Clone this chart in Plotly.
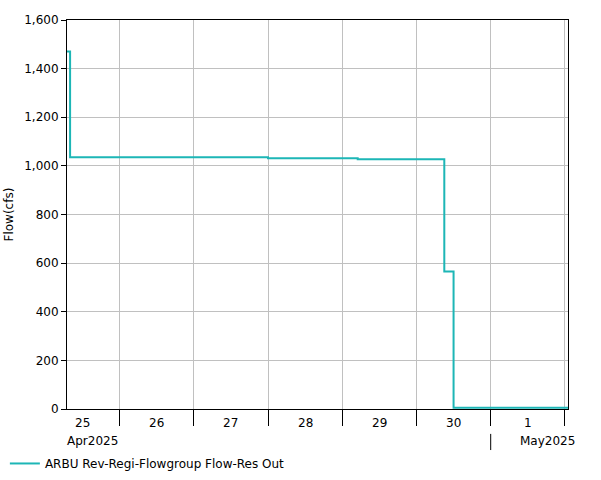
import plotly.graph_objects as go

times = ["2025-04-25 07:00", "2025-04-25 08:00", "2025-04-28 00:00", "2025-04-29 05:00",
         "2025-04-30 09:00", "2025-04-30 12:00", "2025-05-02 01:00"]
flow = [1470, 1035, 1031, 1027, 566, 5, 5]

day_ticks = ["2025-04-26", "2025-04-27", "2025-04-28", "2025-04-29", "2025-04-30", "2025-05-01", "2025-05-02"]
day_label_pos = ["2025-04-25 12:00", "2025-04-26 12:00", "2025-04-27 12:00", "2025-04-28 12:00",
                 "2025-04-29 12:00", "2025-04-30 12:00", "2025-05-01 12:00"]
day_labels = ["25", "26", "27", "28", "29", "30", "1"]
month_pos = ["2025-04-25 07:00", "2025-05-01 09:20"]
month_labels = ["Apr2025", "May2025"]
month_sep = ["2025-05-01"]
series_name = "ARBU Rev-Regi-Flowgroup Flow-Res Out"
y_title = "Flow(cfs)"

FONT = "DejaVu Sans"
fig = go.Figure()
fig.add_trace(go.Scatter(x=times, y=flow, mode="lines", line_shape="hv",
                         line=dict(color="#1db6b6", width=2), name=series_name, showlegend=True))

annotations = []
for pos, lab in zip(day_label_pos, day_labels):
    annotations.append(dict(x=pos, y=0, xref="x", yref="paper", text=lab, showarrow=False,
                            xanchor="center", yanchor="middle", yshift=-14,
                            font=dict(family=FONT, size=12, color="black")))
for pos, lab in zip(month_pos, month_labels):
    annotations.append(dict(x=pos, y=0, xref="x", yref="paper", text=lab, showarrow=False,
                            xanchor="left", yanchor="middle", yshift=-32, xshift=-2,
                            font=dict(family=FONT, size=12, color="black")))
annotations.append(dict(x=0, y=0.5, xref="paper", yref="paper", text=y_title, showarrow=False,
                        textangle=-90, xanchor="center", yanchor="middle", xshift=-59,
                        font=dict(family=FONT, size=12, color="black")))

shapes = []
for s in month_sep:
    shapes.append(dict(type="line", xref="x", yref="paper", x0=s, x1=s, y0=-0.064, y1=-0.1055,
                       line=dict(color="black", width=1)))

fig.update_layout(
    width=601, height=480,
    margin=dict(l=67, r=33, t=20, b=71, autoexpand=False),
    paper_bgcolor="white", plot_bgcolor="white",
    font=dict(family=FONT, size=12, color="black"),
    showlegend=True,
    legend=dict(orientation="h", x=-0.124, xanchor="left", y=-0.14, yanchor="middle",
                font=dict(family=FONT, size=12, color="black"), bgcolor="rgba(0,0,0,0)"),
    annotations=annotations, shapes=shapes,
    xaxis=dict(type="date", range=[times[0], times[-1]], tickvals=day_ticks, showticklabels=False,
               ticks="outside", ticklen=16, tickcolor="black", showgrid=True, gridcolor="#c0c0c0",
               showline=True, linecolor="black", linewidth=1, mirror=True, zeroline=False,
               automargin=False),
    yaxis=dict(range=[0, 1600], dtick=200, tickformat=",", ticks="outside", ticklen=5,
               tickcolor="black", showgrid=True, gridcolor="#c0c0c0", showline=True,
               linecolor="black", linewidth=1, mirror=True, zeroline=False, automargin=False,
               tickfont=dict(family=FONT, size=12)),
)
fig.write_html("out.html", config={"displayModeBar": False},
               post_script="document.body.style.margin='0';document.body.style.overflow='hidden';")
